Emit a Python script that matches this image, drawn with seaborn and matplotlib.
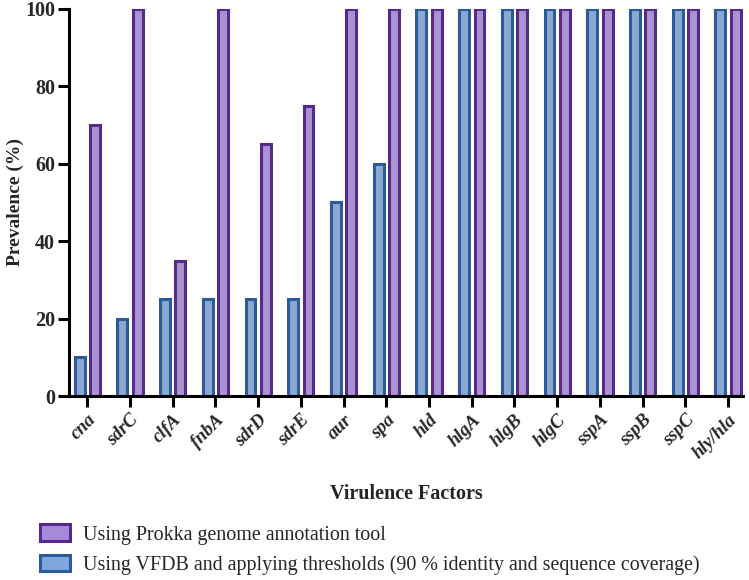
import pandas as pd
import matplotlib.pyplot as plt
from matplotlib.patches import Patch
import seaborn as sns

sns.set_style('white')
plt.rcParams['font.family'] = ['Liberation Serif', 'DejaVu Serif']

genes = ['cna', 'sdrC', 'clfA', 'fnbA', 'sdrD', 'sdrE', 'aur', 'spa',
         'hld', 'hlgA', 'hlgB', 'hlgC', 'sspA', 'sspB', 'sspC', 'hly/hla']
vfdb = [10, 20, 25, 25, 25, 25, 50, 60, 100, 100, 100, 100, 100, 100, 100, 100]
prokka = [70, 100, 35, 100, 65, 75, 100, 100, 100, 100, 100, 100, 100, 100, 100, 100]

lab_vfdb = 'Using VFDB and applying thresholds (90 % identity and sequence coverage)'
lab_prokka = 'Using Prokka genome annotation tool'

df = pd.concat([
    pd.DataFrame({'gene': genes, 'value': vfdb, 'method': lab_vfdb}),
    pd.DataFrame({'gene': genes, 'value': prokka, 'method': lab_prokka}),
])

fills = {lab_vfdb: '#7fa6dd', lab_prokka: '#a68ad9'}
edges = {lab_vfdb: '#2c5b9c', lab_prokka: '#57298f'}

fig = plt.figure(figsize=(7.49, 5.80), dpi=100)
ax = fig.add_axes([0.092, 0.317, 0.9, 0.668])

sns.barplot(data=df, x='gene', y='value', hue='method',
            hue_order=[lab_vfdb, lab_prokka], palette=fills,
            width=0.72, gap=0.36, linewidth=2.2, legend=False, ax=ax)

# dark outlines per series
for container, lab in zip(ax.containers, [lab_vfdb, lab_prokka]):
    for bar in container:
        bar.set_edgecolor(edges[lab])

ax.set_ylim(0, 100)
ax.set_xlim(-0.43, 15.35)
ax.set_yticks([0, 20, 40, 60, 80, 100])
ax.set_ylabel('Prevalence (%)', fontsize=14, fontweight='bold', labelpad=1)
ax.set_xlabel('Virulence Factors', fontsize=14.5, fontweight='bold', labelpad=16)

for s in ['top', 'right']:
    ax.spines[s].set_visible(False)
for s in ['left', 'bottom']:
    ax.spines[s].set_linewidth(2.2)
    ax.spines[s].set_color('black')
ax.tick_params(axis='both', direction='out', length=8, width=2.2, color='black',
               bottom=True, left=True)
ax.tick_params(axis='y', labelsize=14.5, pad=2)
ax.tick_params(axis='x', labelsize=13.5, pad=3)
for t in ax.get_yticklabels():
    t.set_fontweight('bold')
for t in ax.get_xticklabels():
    t.set_fontweight('bold')
    t.set_fontstyle('italic')
    t.set_rotation(45)
    t.set_ha('right')
    t.set_rotation_mode('anchor')

handles = [Patch(facecolor=fills[lab_prokka], edgecolor=edges[lab_prokka], linewidth=2.2, label=lab_prokka),
           Patch(facecolor=fills[lab_vfdb], edgecolor=edges[lab_vfdb], linewidth=2.2, label=lab_vfdb)]
fig.legend(handles=handles, loc='upper left', bbox_to_anchor=(0.030, 0.127), frameon=False,
           fontsize=14.4, handlelength=1.5, handleheight=0.9, handletextpad=0.65, labelspacing=0.5)

fig.savefig('out.png', dpi=100)
